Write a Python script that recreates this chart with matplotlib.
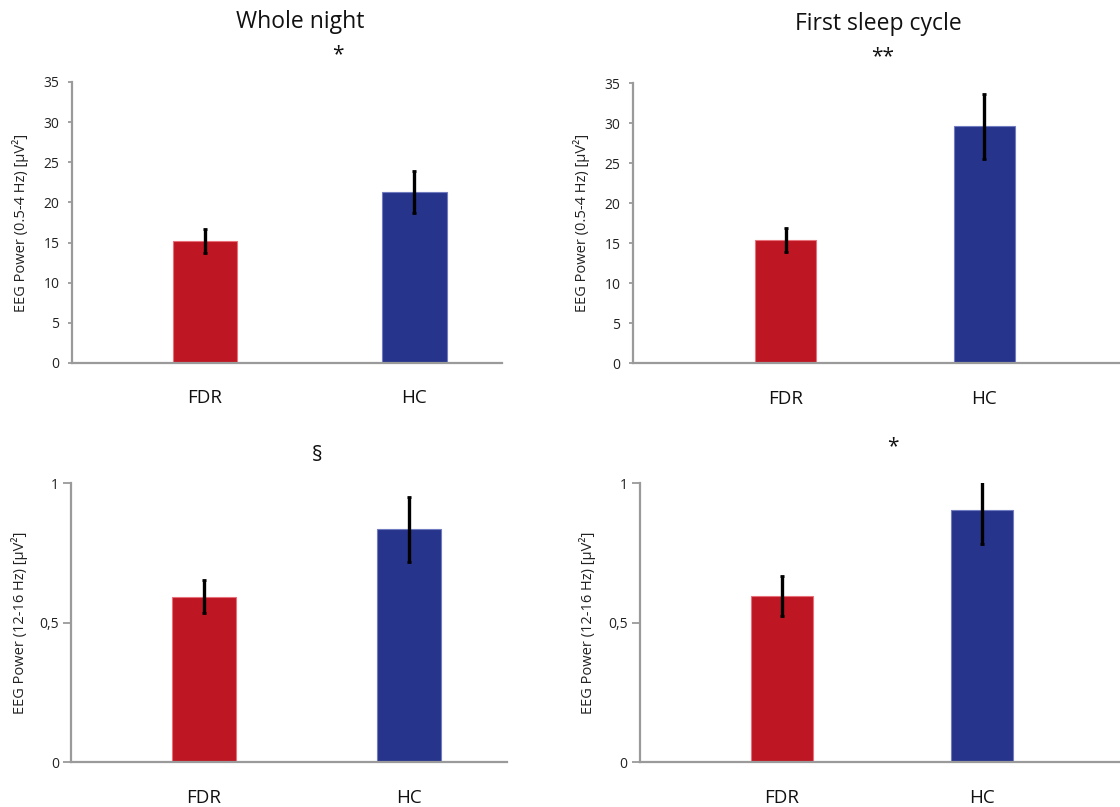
import matplotlib.pyplot as plt

plt.rcParams['font.family'] = ['Open Sans', 'DejaVu Sans']

groups = ['FDR', 'HC']
bar_colors = ['#be1622', '#27348b']
edge_colors = ['#e8707a', '#6f7cc0']

# delta (0.5-4 Hz)
delta_night = [15.2, 21.3]
delta_night_err = [1.55, 2.65]
delta_cycle = [15.4, 29.6]
delta_cycle_err = [1.5, 4.05]

# sigma (12-16 Hz)
sigma_night = [0.594, 0.835]
sigma_night_err = [0.059, 0.117]
sigma_cycle = [0.596, 0.904]
sigma_cycle_err = [0.07, 0.12]

delta_label = 'EEG Power (0.5-4 Hz) [µV²]'
sigma_label = 'EEG Power (12-16 Hz) [µV²]'

fig = plt.figure(figsize=(11.2, 8.07), dpi=100)

panels = [
    # rect, values, errors, ylim, yticks, ticklabels, ylabel, xlim, mark, mark pos, title
    ([0.0643, 0.5502, 0.3839, 0.3482], delta_night, delta_night_err, 35,
     [0, 5, 10, 15, 20, 25, 30, 35], None, delta_label, (-0.635, 1.418),
     '*', (0.619, 1.096), 'Whole night', (0.53, 1.214)),
    ([0.5652, 0.5498, 0.4348, 0.3470], delta_cycle, delta_cycle_err, 35,
     [0, 5, 10, 15, 20, 25, 30, 35], None, delta_label, (-0.768, 1.682),
     '**', (0.513, 1.094), 'First sleep cycle', (0.503, 1.212)),
    ([0.0638, 0.0554, 0.3889, 0.3457], sigma_night, sigma_night_err, 1,
     [0, 0.5, 1], ['0', '0,5', '1'], sigma_label, (-0.646, 1.478),
     '§', (0.564, 1.101), None, None),
    ([0.5714, 0.0554, 0.4286, 0.3457], sigma_cycle, sigma_cycle_err, 1,
     [0, 0.5, 1], ['0', '0,5', '1'], sigma_label, (-0.71, 1.69),
     '*', (0.527, 1.13), None, None),
]

for i, (rect, vals, errs, ymax, yticks, ticklabels, ylabel, xlim,
        mark, mark_pos, title, title_pos) in enumerate(panels):
    ax = fig.add_axes(rect)
    x = range(len(groups))
    ax.bar(x, vals, width=0.31, color=bar_colors, edgecolor=edge_colors,
           linewidth=0.8, zorder=2)
    ax.errorbar(x, vals, yerr=errs, fmt='none', ecolor='black',
                elinewidth=2.4, capsize=1.5, capthick=2, zorder=3)
    ax.set_xlim(*xlim)
    ax.set_ylim(0, ymax)
    ax.set_yticks(yticks)
    if ticklabels:
        ax.set_yticklabels(ticklabels)
        ax.tick_params(axis='y', length=6, pad=3)
    else:
        ax.tick_params(axis='y', length=3, pad=6)
    ax.tick_params(axis='y', width=1.3, color='#9a9a9a',
                   labelsize=10, labelcolor='#222222')
    ax.set_xticks(list(x))
    ax.set_xticklabels(groups)
    ax.tick_params(axis='x', length=0, pad=19, labelsize=13.5,
                   labelcolor='#111111')
    for s in ['top', 'right']:
        ax.spines[s].set_visible(False)
    for s in ['left', 'bottom']:
        ax.spines[s].set_color('#9a9a9a')
        ax.spines[s].set_linewidth(1.6)
    ax.set_ylabel(ylabel, fontsize=10.5, color='#222222', va='center')
    ax.yaxis.set_label_coords(-52 / (rect[2] * 1120), 0.5)
    ax.text(mark_pos[0], mark_pos[1], mark, transform=ax.transAxes,
            ha='center', va='center', fontsize=15, color='#111111')
    if title:
        ax.text(title_pos[0], title_pos[1], title, transform=ax.transAxes,
                ha='center', va='center', fontsize=16.5, color='#111111')

fig.savefig('out.png', dpi=100)
